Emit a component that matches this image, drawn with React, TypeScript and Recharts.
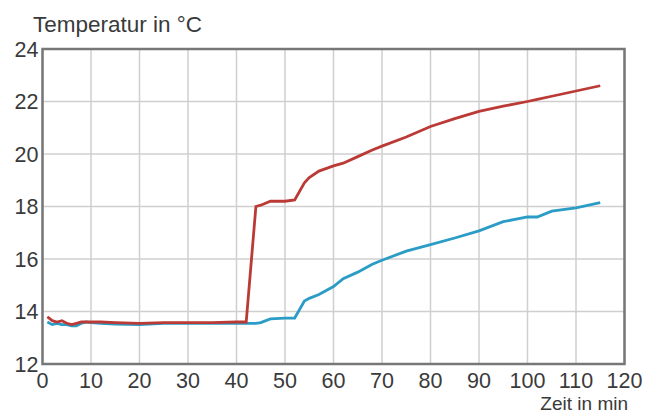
import { LineChart, Line, XAxis, YAxis, CartesianGrid, ReferenceArea } from "recharts";

const minutes = [
  1, 2, 3, 4, 5, 6, 7, 8, 9, 10, 12, 15, 20, 25, 30, 35, 40, 42, 44, 45, 47, 50, 52, 54, 55, 57,
  60, 62, 65, 68, 70, 75, 80, 85, 90, 95, 100, 102, 105, 110, 115,
];
const redTemps = [
  13.8, 13.65, 13.6, 13.65, 13.55, 13.5, 13.55, 13.6, 13.6, 13.6, 13.6, 13.58, 13.55, 13.58, 13.58,
  13.58, 13.6, 13.6, 18.0, 18.05, 18.2, 18.2, 18.25, 18.9, 19.1, 19.35, 19.55, 19.65, 19.9, 20.15,
  20.3, 20.65, 21.05, 21.35, 21.62, 21.82, 22.0, 22.08, 22.2, 22.4, 22.6,
];
const blueTemps = [
  13.6, 13.5, 13.55, 13.5, 13.5, 13.45, 13.45, 13.55, 13.6, 13.58, 13.55, 13.52, 13.5, 13.55, 13.55,
  13.55, 13.55, 13.55, 13.55, 13.58, 13.72, 13.75, 13.75, 14.4, 14.5, 14.65, 14.95, 15.25, 15.5,
  15.8, 15.95, 16.3, 16.55, 16.8, 17.07, 17.42, 17.6, 17.6, 17.82, 17.95, 18.15,
];
const xTicks = [0, 10, 20, 30, 40, 50, 60, 70, 80, 90, 100, 110, 120];
const yTicks = [12, 14, 16, 18, 20, 22, 24];

const data = minutes.map((t, i) => ({ t, red: redTemps[i], blue: blueTemps[i] }));

const font = "Liberation Sans, Arial, sans-serif";
const tickStyle = { fontSize: 21.5, fill: "#3a3a3a", fontFamily: font };

export default function App() {
  return (
    <div style={{ position: "absolute", left: 0, top: 0, width: 645, height: 416, background: "#fff" }}>
      <LineChart
        width={645}
        height={416}
        data={data}
        margin={{ top: 49, right: 20.5, bottom: 22, left: 0 }}
      >
        <CartesianGrid stroke="#cfcfcf" strokeWidth={1.5} />
        <XAxis
          dataKey="t"
          type="number"
          domain={[0, 120]}
          ticks={xTicks}
          tickSize={0}
          tickMargin={9}
          height={30}
          axisLine={false}
          tick={tickStyle}
        />
        <YAxis
          type="number"
          domain={[12, 24]}
          ticks={yTicks}
          tickSize={0}
          tickMargin={4}
          width={42.5}
          axisLine={false}
          tick={tickStyle}
        />
        <ReferenceArea x1={0} x2={120} y1={12} y2={24} fill="none" stroke="#777" strokeWidth={2.5} />
        <Line dataKey="blue" stroke="#2a9cc6" strokeWidth={2.8} dot={false} isAnimationActive={false} />
        <Line dataKey="red" stroke="#bb3a36" strokeWidth={2.8} dot={false} isAnimationActive={false} />
        <text x={33} y={32} fontSize={22.5} fill="#3a3a3a" fontFamily={font}>
          Temperatur in °C
        </text>
        <text x={628} y={410} fontSize={19} fill="#3a3a3a" fontFamily={font} textAnchor="end">
          Zeit in min
        </text>
      </LineChart>
    </div>
  );
}
